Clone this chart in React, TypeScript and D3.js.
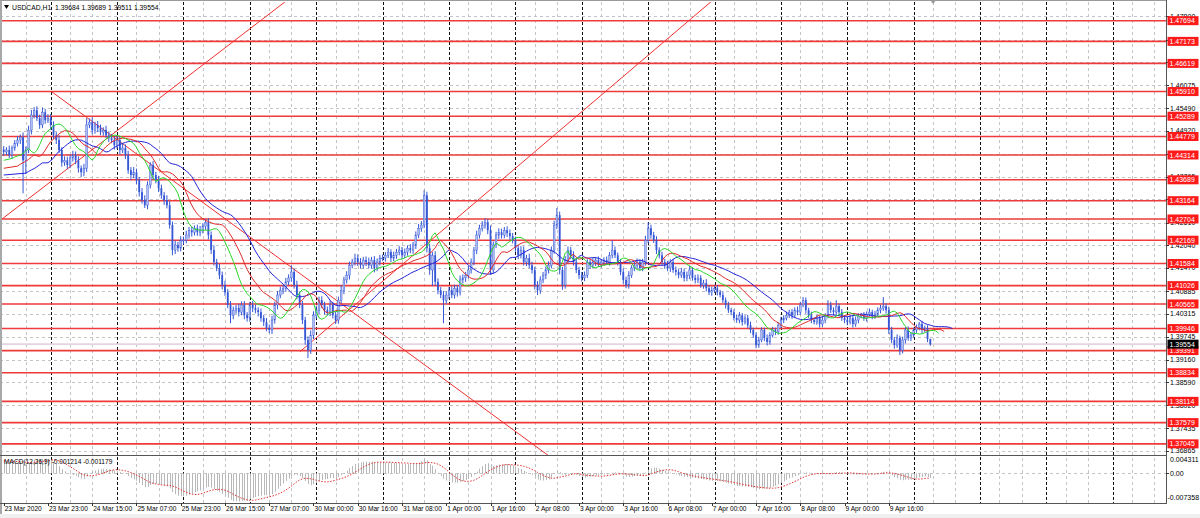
import React from 'react';
import * as d3 from 'd3';

// ---------------- data ----------------
const headerSymbol = 'USDCAD,H1';
// hourly closes in units of 0.0001
const closePips = [
  14439,14444,14431,14449,14461,14469,14476,14418,14444,14494,14532,14544,14524,14507,14539,14519,14524,
  14507,14481,14469,14444,14413,14418,14406,14424,14431,14418,14398,14388,14398,14507,14514,14494,14507,14499,14489,14494,14481,14474,14469,14456,
  14469,14444,14449,14431,14393,14381,14388,14368,14338,14318,14305,14356,14406,14381,14368,14348,14330,14318,14305,14255,14192,14205,14197,14217,
  14217,14230,14242,14237,14247,14237,14242,14252,14262,14230,14192,14162,14147,14129,14104,14086,14054,14028,14041,14046,14036,14054,14028,14021,
  14054,14046,14041,14036,14021,14011,13996,13991,14016,14054,14079,14091,14096,14112,14122,14137,14104,14079,14054,14016,13966,13940,13978,14028,
  14041,14066,14054,14041,14036,14054,14028,14016,14066,14091,14117,14129,14154,14162,14172,14162,14154,14167,14162,14154,14167,14147,14162,14172,
  14172,14179,14187,14172,14179,14187,14192,14179,14187,14197,14192,14205,14230,14247,14255,14330,14197,14142,14179,14112,14091,14079,14066,14079,
  14091,14079,14096,14086,14117,14122,14129,14142,14162,14192,14230,14247,14255,14262,14242,14142,14205,14230,14237,14230,14242,14235,14227,14217,
  14197,14179,14192,14162,14172,14154,14142,14104,14091,14117,14129,14142,14154,14192,14255,14280,14142,14104,14167,14192,14179,14162,14142,14129,
  14122,14129,14162,14154,14162,14167,14157,14162,14167,14162,14179,14192,14179,14162,14137,14117,14104,14129,14147,14154,14162,14147,14162,14217,
  14247,14230,14217,14192,14179,14162,14154,14147,14162,14142,14137,14129,14137,14122,14129,14142,14122,14117,14122,14104,14109,14096,14086,14091,
  14096,14086,14079,14066,14054,14041,14036,14021,14016,14028,14011,14021,14003,13991,13978,13953,13966,13991,13971,13961,13978,13991,13986,14003,
  14016,14021,14028,14036,14028,14041,14036,14054,14066,14041,14028,14016,14011,14021,14006,14016,14026,14054,14041,14036,14051,14036,14021,14016,
  14011,14021,14006,14016,14026,14028,14021,14031,14036,14026,14031,14041,14046,14051,14041,13991,13966,13953,13971,13940,13966,13991,13971,13978,13991,13998,14006,13991,13996,13968.4,13955.4,
];
const firstOpenPips = 14445;
// upper wick above body, pips
const wickUpPips = [
  9,7,11,6,8,10,7,12,9,11,13,8,10,9,12,8,10,
  11,9,8,12,7,10,9,8,11,9,10,7,11,17,9,12,8,10,9,7,11,8,10,9,
  10,8,12,9,11,8,13,9,8,10,12,9,7,10,8,11,9,8,12,10,9,11,8,10,
  9,11,8,10,7,9,11,8,8,10,9,12,8,10,9,11,8,10,9,8,11,9,10,8,
  8,10,9,7,9,8,10,9,11,8,10,9,8,10,9,17,8,11,9,10,8,9,12,10,
  11,9,10,8,9,11,8,10,9,12,8,10,9,8,11,9,10,8,9,11,8,10,9,8,
  9,8,10,7,9,8,10,8,9,7,10,8,9,11,10,13,9,11,8,10,9,8,10,9,
  8,10,9,8,11,9,8,10,9,8,11,9,10,10,8,12,9,8,10,9,8,10,9,8,
  9,8,10,9,8,11,9,8,10,9,8,9,10,9,11,18,9,8,10,9,8,10,9,8,
  8,9,7,8,10,7,9,8,7,9,8,25,9,7,8,9,8,10,7,8,9,7,8,11,
  15,9,8,10,7,9,8,11,7,8,9,7,10,8,9,11,7,8,9,7,8,10,7,9,
  7,8,6,9,7,8,6,7,9,8,6,7,8,9,6,7,8,7,6,9,7,8,6,7,
  8,7,9,6,8,7,9,8,8,7,6,9,7,8,6,9,7,12,8,7,15,6,8,7,
  7,8,6,9,7,6,8,7,9,6,8,7,8,23,7,9,8,7,9,6,8,7,9,8,6,7,5,8,6,7,0.5,
];
// lower wick below body, pips
const wickDnPips = [
  10,8,7,9,7,8,10,83,35,8,11,9,7,10,8,9,7,
  12,9,10,8,11,9,10,8,9,10,11,12,10,9,8,11,9,10,8,9,7,10,8,11,
  9,11,8,10,9,12,8,10,11,9,7,10,9,11,8,10,9,12,8,9,13,10,9,8,
  10,8,9,11,8,9,10,8,9,11,10,9,8,10,11,9,8,20,10,9,11,8,10,9,
  9,10,8,11,9,10,8,8,10,9,11,8,10,9,8,10,9,11,8,10,12,20,9,10,
  9,10,8,11,9,10,8,10,9,8,10,9,11,8,9,10,8,9,10,8,9,11,8,9,
  8,9,7,10,8,9,8,10,7,9,8,9,10,8,9,8,11,12,40,9,10,8,58,9,
  10,8,9,11,8,9,10,8,9,8,10,9,8,9,10,12,9,8,10,9,8,10,9,8,
  9,10,8,9,10,8,9,11,12,9,8,10,9,8,9,10,11,12,9,8,10,9,8,10,
  9,8,7,9,8,10,7,9,8,7,9,8,7,9,8,10,8,9,7,8,9,7,8,9,
  8,9,7,10,8,7,9,8,10,7,9,8,7,9,8,10,7,9,8,7,9,8,7,9,
  7,8,6,7,9,7,8,6,7,8,9,6,7,8,7,8,7,6,8,9,7,6,8,7,
  7,8,6,7,9,6,8,7,6,9,7,8,6,7,9,7,8,6,7,8,6,9,7,8,
  8,6,9,7,8,6,7,9,6,8,7,6,8,7,9,10,8,9,7,12,8,9,7,8,6,7,8,9,6,8,4.3,
];

const xLabels = [
  '23 Mar 2020','23 Mar 23:00','24 Mar 15:00','25 Mar 07:00','25 Mar 23:00','26 Mar 15:00',
  '27 Mar 07:00','30 Mar 00:00','30 Mar 16:00','31 Mar 08:00','1 Apr 00:00','1 Apr 16:00',
  '2 Apr 08:00','3 Apr 00:00','3 Apr 16:00','6 Apr 08:00','7 Apr 00:00','7 Apr 16:00',
  '8 Apr 08:00','9 Apr 00:00','9 Apr 16:00',
];
const dayStartIdx = [17,41,65,89,113,137,161,185,209,233,257,281,305,329,353,377,401];
const priceTicks = [1.478,1.47215,1.46645,1.46075,1.4549,1.4492,1.44335,1.43765,1.43195,1.4261,1.4204,1.4147,1.40885,1.40315,1.39745,1.3916,1.3859,1.3802,1.37435,1.36865];
const levelPrices = [1.47694,1.47173,1.46619,1.4591,1.45289,1.44779,1.44314,1.43689,1.43164,1.42704,1.42169,1.41584,1.41026,1.40565,1.39946,1.39391,1.38834,1.38114,1.37579,1.37045];
const bidPrice = 1.39554;
const tlStartIdx = [-0.15, 17.35, 107.1];
const tlStartPrice = [1.42728, 1.45906, 1.39364];
const tlEndIdx = [101.1, 111.9, 180.0];
const tlEndPrice = [1.48136, 1.41085, 1.43684];
const tlExtendLeft = [true, false, false];
const alligatorPeriods = [13, 8, 5];
const alligatorShifts = [8, 5, 3];
const alligatorSeed = [1.4381, 1.4398, 1.4418];
const alligatorColors = ['#2323d8', '#e02a2a', '#2ad62a'];
const macdParams = [12, 26, 9];
const macdSeed = [1.4425, 1.4393, 0.0031];
const macdShown = [-0.001214, -0.001179];
const macdRange = [-0.007358, 0.004311];
const priceRange = [1.36764, 1.48164];
const idxRange = [0, 420];

// ---------------- layout ----------------
const W = 1200, H = 518;
const R = 1166, MT = 2, MB = 455, ST = 456, SB = 503;
const FONT = '"Liberation Sans", Arial, sans-serif';

export default function App() {
  const n = Math.min(closePips.length, wickUpPips.length, wickDnPips.length);
  const x = d3.scaleLinear().domain(idxRange).range([3.7, 3.7 + 420 * 2.766]);
  const yP = d3.scaleLinear().domain(priceRange).range([MB, MT]);
  const yM = d3.scaleLinear().domain(macdRange).range([SB, ST]);

  const bars = d3.range(n).map((i) => {
    const o = (i === 0 ? firstOpenPips : closePips[i - 1]) / 1e4;
    const c = closePips[i] / 1e4;
    const h = Math.max(o, c) + wickUpPips[i] / 1e4;
    const l = Math.min(o, c) - wickDnPips[i] / 1e4;
    return { i, o, h, l, c };
  });

  // Alligator
  const med = bars.map((b) => (b.h + b.l) / 2);
  const alligator = alligatorPeriods.map((p, j) => {
    let s = alligatorSeed[j];
    const pts: [number, number][] = [[0, s]];
    med.forEach((m, i) => {
      s = (s * (p - 1) + m) / p;
      pts.push([i + alligatorShifts[j], s]);
    });
    return pts;
  });

  // MACD
  let e1 = macdSeed[0], e2 = macdSeed[1];
  const k1 = 2 / (macdParams[0] + 1), k2 = 2 / (macdParams[1] + 1);
  const macd = bars.map((b) => {
    e1 = e1 + k1 * (b.c - e1);
    e2 = e2 + k2 * (b.c - e2);
    return e1 - e2;
  });
  const signal = macd.map((_, i) => {
    let sum = 0;
    for (let k = i - macdParams[2] + 1; k <= i; k++) sum += k < 0 ? macdSeed[2] : macd[k];
    return sum / macdParams[2];
  });

  const px = (v: number) => Math.round(v) + 0.5;
  const priceLine = d3.line<[number, number]>().x((d) => x(d[0])).y((d) => yP(d[1]));
  const sigLine = d3.line<number>().x((_, i) => x(i)).y((d) => yM(d));

  const gridIdx = d3.range(8, 420, 8).filter((i) => (i - 16) % 24 !== 0);
  const labelIdx = xLabels.map((_, k) => k * 16);

  const trend = tlStartIdx.map((i1, k) => {
    const m = (tlEndPrice[k] - tlStartPrice[k]) / (tlEndIdx[k] - i1);
    const a = tlExtendLeft[k] ? -20 : i1;
    const b = 440;
    return [[a, tlStartPrice[k] + m * (a - i1)], [b, tlStartPrice[k] + m * (b - i1)]] as [number, number][];
  });

  const last = bars[n - 1];
  const header = `${headerSymbol}  ${last.o.toFixed(5)} ${last.h.toFixed(5)} ${last.l.toFixed(5)} ${last.c.toFixed(5)}`;

  return (
    <div style={{ position: 'absolute', left: 0, top: 0 }}>
      <svg width={W} height={H} style={{ display: 'block', background: '#fff' }} fontFamily={FONT}>
        <defs>
          <clipPath id="cm"><rect x={0} y={MT} width={R} height={MB - MT} /></clipPath>
          <clipPath id="cs"><rect x={0} y={ST} width={R} height={SB - ST} /></clipPath>
        </defs>
        <rect x={0} y={0} width={W} height={H} fill="#fff" />
        <rect x={0} y={514} width={W} height={4} fill="#f0f0f0" />

        {/* horizontal grid */}
        {priceTicks.map((t) => (
          <line key={'hg' + t} x1={0} x2={R} y1={px(yP(t))} y2={px(yP(t))} stroke="#c4c4c4" strokeDasharray="3,3" />
        ))}
        <line x1={0} x2={R} y1={px(yM(0))} y2={px(yM(0))} stroke="#c4c4c4" strokeDasharray="3,3" />
        {/* vertical grid */}
        {gridIdx.map((i) => (
          <line key={'vg' + i} x1={px(x(i))} x2={px(x(i))} y1={MT} y2={SB} stroke="#c4c4c4" strokeDasharray="3,3" />
        ))}
        {dayStartIdx.map((i) => (
          <line key={'ds' + i} x1={px(x(i))} x2={px(x(i))} y1={MT} y2={SB} stroke="#111" strokeDasharray="3,2" />
        ))}

        <g clipPath="url(#cm)">
          {/* bid line */}
          <line x1={0} x2={R} y1={yP(bidPrice)} y2={yP(bidPrice)} stroke="#e2d4e2" strokeWidth={1.6} />
          {/* levels */}
          {levelPrices.map((p) => (
            <line key={'lv' + p} x1={0} x2={R} y1={yP(p)} y2={yP(p)} stroke="#ee3a3a" strokeWidth={1.6} />
          ))}
          {/* trend lines */}
          {trend.map((t, k) => (
            <path key={'tl' + k} d={priceLine(t) || ''} stroke="#f03030" strokeWidth={1} fill="none" />
          ))}
          {/* candles */}
          {bars.map((b) => {
            const cx = x(b.i);
            const up = b.c >= b.o;
            const yt = yP(Math.max(b.o, b.c));
            const yb = yP(Math.min(b.o, b.c));
            return (
              <g key={'c' + b.i}>
                <line x1={cx} x2={cx} y1={yP(b.h)} y2={yP(b.l)} stroke="#3557d6" strokeWidth={1} />
                <rect x={cx - 0.9} y={yt} width={1.8} height={Math.max(0.8, yb - yt)}
                  fill={up ? '#aebcf0' : '#3557d6'} stroke="#3557d6" strokeWidth={up ? 0.4 : 0} />
              </g>
            );
          })}
          {/* alligator */}
          {alligator.map((pts, j) => (
            <path key={'al' + j} d={priceLine(pts) || ''} stroke={alligatorColors[j]} strokeWidth={1} fill="none" />
          ))}
        </g>

        {/* MACD */}
        <g clipPath="url(#cs)">
          {macd.map((v, i) => (
            <line key={'mh' + i} x1={px(x(i))} x2={px(x(i))} y1={yM(0)} y2={yM(v)} stroke="#b8b8b8" strokeWidth={1} />
          ))}
          <path d={sigLine(signal) || ''} stroke="#e03030" strokeWidth={1} strokeDasharray="1.5,1.5" fill="none" />
        </g>

        {/* frame */}
        <rect x={0} y={0} width={2} height={514} fill="#a8a8a8" />
        <line x1={0} x2={R + 1} y1={0.5} y2={0.5} stroke="#9a9a9a" />
        <line x1={0} x2={R + 1} y1={MB + 0.5} y2={MB + 0.5} stroke="#555" />
        <line x1={0} x2={R + 1} y1={SB + 0.5} y2={SB + 0.5} stroke="#555" />
        <line x1={R + 0.5} x2={R + 0.5} y1={0} y2={SB + 1} stroke="#555" />

        {/* price axis */}
        {priceTicks.map((t) => (
          <g key={'pt' + t}>
            <line x1={R} x2={R + 3} y1={px(yP(t))} y2={px(yP(t))} stroke="#333" />
            <text x={R + 4} y={yP(t) + 2.5} fontSize={7} fill="#000">{t.toFixed(5)}</text>
          </g>
        ))}
        {levelPrices.map((p) => (
          <g key={'pl' + p}>
            <rect x={R + 1.5} y={yP(p) - 4.5} width={31} height={9} fill="#ff1a1a" />
            <text x={R + 3.5} y={yP(p) + 2.6} fontSize={7} fill="#fff">{p.toFixed(5)}</text>
          </g>
        ))}
        <rect x={R + 1.5} y={yP(bidPrice) - 4.5} width={31} height={9} fill="#000" />
        <text x={R + 3.5} y={yP(bidPrice) + 2.6} fontSize={7} fill="#fff">{bidPrice.toFixed(5)}</text>

        {/* MACD axis */}
        <text x={R + 4} y={ST + 5.5} fontSize={7} fill="#000">{macdRange[1].toFixed(6)}</text>
        <line x1={R} x2={R + 3} y1={px(yM(0))} y2={px(yM(0))} stroke="#333" />
        <text x={R + 4} y={yM(0) + 2.5} fontSize={7} fill="#000">0.00</text>
        <text x={R + 1.5} y={SB - 3.5} fontSize={7} fill="#000">{macdRange[0].toFixed(6)}</text>
        <text x={4} y={464} fontSize={6.6} fill="#000" style={{ whiteSpace: 'pre' }}>
          {`MACD(${macdParams.join(',')}) ${macdShown[0].toFixed(6)} ${macdShown[1].toFixed(6)}`}
        </text>

        {/* time axis */}
        {labelIdx.map((i, k) => (
          <g key={'xl' + i}>
            <line x1={px(x(i))} x2={px(x(i))} y1={SB} y2={SB + 3} stroke="#333" />
            <text x={x(i) + 1} y={511} fontSize={6.6} fill="#000">{xLabels[k]}</text>
          </g>
        ))}

        {/* header */}
        <polygon points="4,5 9,5 6.5,9" fill="#000" />
        <text x={12} y={10} fontSize={6.8} fill="#000" style={{ whiteSpace: 'pre' }}>{header}</text>
        <polygon points={`${x(n) - 3},0 ${x(n) + 3},0 ${x(n)},4`} fill="#9a9a9a" />
      </svg>
    </div>
  );
}
